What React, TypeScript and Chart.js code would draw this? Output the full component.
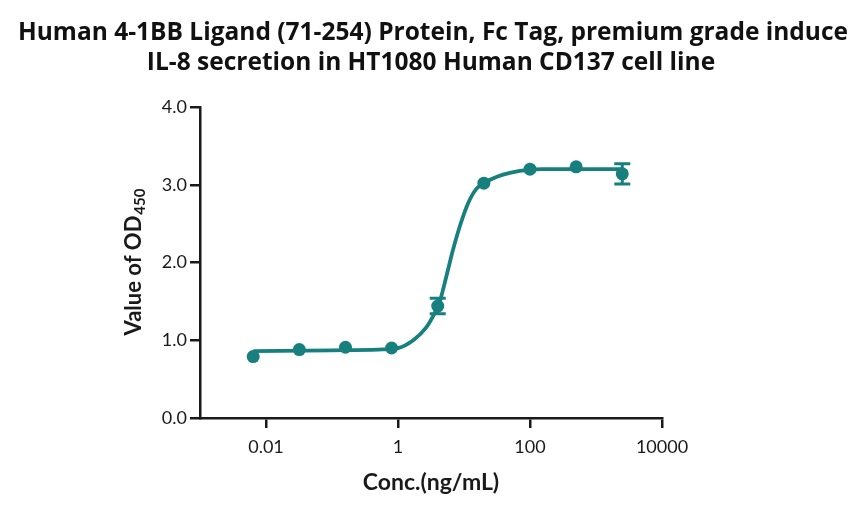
import React, { useEffect, useRef } from "react";
import { Chart, registerables } from "chart.js";

Chart.register(...registerables);

// ---- data ----
const titleLines = [
  "Human 4-1BB Ligand (71-254) Protein, Fc Tag, premium grade induce",
  "IL-8 secretion in HT1080 Human CD137 cell line",
];
const xTitle = "Conc.(ng/mL)";
const yTitleMain = "Value of OD";
const yTitleSub = "450";

const conc = [0.0064, 0.032, 0.16, 0.8, 4, 20, 100, 500, 2500];
const od = [0.79, 0.88, 0.91, 0.9, 1.44, 3.02, 3.2, 3.23, 3.14];
const sem = [0, 0, 0, 0, 0.1, 0, 0, 0, 0.13];

const fitConc = [0.0064, 0.1, 0.5, 1.0, 1.7, 2.7, 3.6, 4.2, 5.4, 6.8, 8.6, 11.5, 15.5, 20.7, 39, 70, 150, 500, 2500];
const fitOd = [0.86, 0.87, 0.88, 0.9, 1.0, 1.17, 1.35, 1.47, 1.82, 2.16, 2.46, 2.76, 2.95, 3.03, 3.13, 3.18, 3.2, 3.2, 3.2];

const xTicks = [0.01, 1, 100, 10000];
const yTicks = [0, 1, 2, 3, 4];

const TEAL = "#17807f";
const INK = "#1a1a1a";

const errorBarPlugin = {
  id: "errorBars",
  afterDatasetsDraw(chart: any) {
    const { ctx, scales } = chart;
    const xs = scales.x;
    const ys = scales.y;
    ctx.save();
    ctx.strokeStyle = TEAL;
    ctx.lineWidth = 3;
    for (let i = 0; i < conc.length; i++) {
      if (!sem[i]) continue;
      const px = xs.getPixelForValue(conc[i]);
      const top = ys.getPixelForValue(od[i] + sem[i]);
      const bot = ys.getPixelForValue(od[i] - sem[i]);
      ctx.beginPath();
      ctx.moveTo(px, top);
      ctx.lineTo(px, bot);
      ctx.moveTo(px - 8, top);
      ctx.lineTo(px + 8, top);
      ctx.moveTo(px - 8, bot);
      ctx.lineTo(px + 8, bot);
      ctx.stroke();
    }
    ctx.restore();
  },
};

const textPlugin = {
  id: "texts",
  afterDraw(chart: any) {
    const { ctx, chartArea } = chart;
    // main title
    ctx.save();
    ctx.fillStyle = "#111";
    ctx.font = "bold 24.5px 'Open Sans'";
    ctx.textAlign = "center";
    ctx.textBaseline = "alphabetic";
    ctx.fillText(titleLines[0], 433, 39.5);
    ctx.fillText(titleLines[1], 431, 69.5);
    ctx.restore();

    // y axis title with subscript
    const cy = (chartArea.top + chartArea.bottom) / 2;
    ctx.save();
    ctx.translate(133, cy);
    ctx.rotate(-Math.PI / 2);
    ctx.fillStyle = INK;
    const mainFont = "bold 22px Lato";
    const subFont = "bold 15px Lato";
    ctx.font = mainFont;
    const w1 = ctx.measureText(yTitleMain).width;
    ctx.font = subFont;
    const w2 = ctx.measureText(yTitleSub).width;
    const start = -(w1 + w2) / 2;
    ctx.textBaseline = "alphabetic";
    ctx.textAlign = "left";
    ctx.font = mainFont;
    ctx.fillText(yTitleMain, start, 8);
    ctx.font = subFont;
    ctx.fillText(yTitleSub, start + w1 + 1, 12);
    ctx.restore();
  },
};

export default function App() {
  const ref = useRef<HTMLCanvasElement | null>(null);
  useEffect(() => {
    if (!ref.current) return;
    const chart = new Chart(ref.current, {
      type: "line",
      data: {
        datasets: [
          {
            label: "fit",
            data: fitConc.map((x, i) => ({ x, y: fitOd[i] })),
            borderColor: TEAL,
            borderWidth: 3.8,
            pointRadius: 0,
            cubicInterpolationMode: "monotone",
            fill: false,
          },
          {
            label: "data",
            data: conc.map((x, i) => ({ x, y: od[i] })),
            showLine: false,
            pointRadius: 6.5,
            pointBackgroundColor: TEAL,
            pointBorderWidth: 0,
            borderColor: TEAL,
          },
        ],
      },
      options: {
        animation: false,
        responsive: false,
        maintainAspectRatio: false,
        layout: { padding: { left: 0, right: 202, top: 107, bottom: 0 } },
        plugins: {
          legend: { display: false },
          tooltip: { enabled: false },
          title: { display: false },
        },
        scales: {
          x: {
            type: "logarithmic",
            min: 0.001,
            max: 10000,
            afterBuildTicks: (scale: any) => {
              scale.ticks = xTicks.map((v) => ({ value: v }));
            },
            afterFit: (scale: any) => {
              scale.height = 97;
            },
            ticks: {
              color: INK,
              font: { family: "Lato", size: 18 },
              padding: 8,
              maxRotation: 0,
              autoSkip: false,
              callback: (v: any) => String(v),
            },
            grid: {
              display: true,
              drawOnChartArea: false,
              drawTicks: true,
              tickLength: 10,
              color: INK,
              lineWidth: 2.5,
            },
            border: { display: true, color: INK, width: 2.5 },
            title: {
              display: true,
              text: xTitle,
              color: INK,
              font: { family: "Lato", size: 23, weight: "bold" },
              padding: { top: 0, bottom: 19 },
            },
          },
          y: {
            type: "linear",
            min: 0,
            max: 4,
            afterBuildTicks: (scale: any) => {
              scale.ticks = yTicks.map((v) => ({ value: v }));
            },
            afterFit: (scale: any) => {
              scale.width = 200;
            },
            ticks: {
              color: INK,
              font: { family: "Lato", size: 18 },
              padding: 3,
              callback: (v: any) => Number(v).toFixed(1),
            },
            grid: {
              display: true,
              drawOnChartArea: false,
              drawTicks: true,
              tickLength: 10,
              color: INK,
              lineWidth: 2.5,
            },
            border: { display: true, color: INK, width: 2.5 },
          },
        },
      } as any,
      plugins: [errorBarPlugin, textPlugin],
    });
    return () => chart.destroy();
  }, []);

  return (
    <div style={{ position: "fixed", left: 0, top: 0, width: 864, height: 515, background: "#fff" }}>
      <canvas ref={ref} width={864} height={515} style={{ width: 864, height: 515 }} />
    </div>
  );
}
